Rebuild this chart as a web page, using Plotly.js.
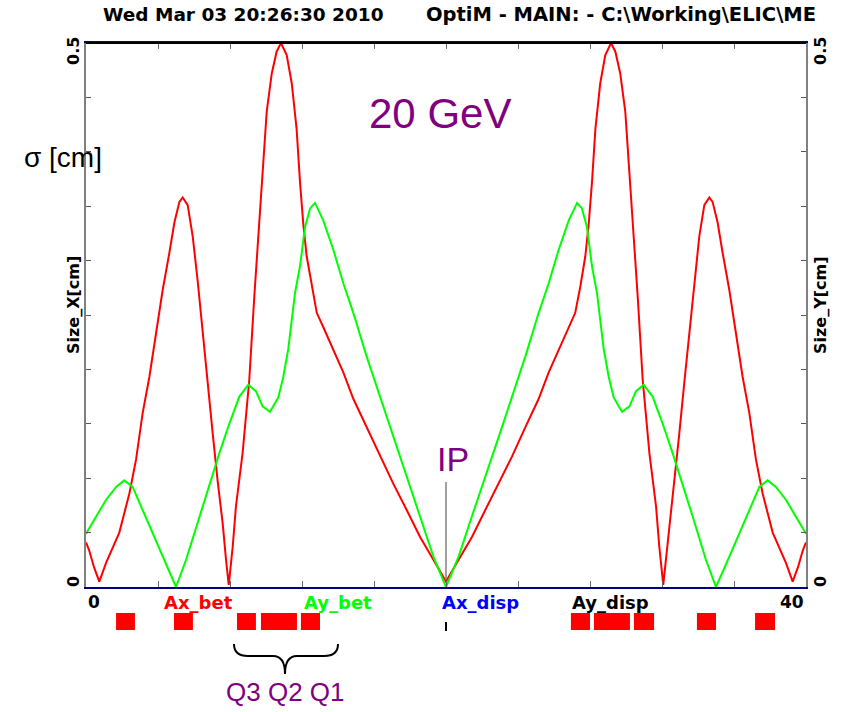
<!DOCTYPE html>
<html>
<head>
<meta charset="utf-8">
<script src="https://cdn.plot.ly/plotly-3.0.1.min.js"></script>
<style>html,body{margin:0;padding:0;background:#fff;}#chart{width:842px;height:712px;}</style>
</head>
<body>
<div id="chart"></div>
<script>
// ---- data ----
const sRed = [0, 0.17, 0.45, 0.74, 1.11, 1.85, 2.41, 2.78, 3.15, 3.52, 3.89, 4.26, 4.63, 4.91, 5.19, 5.37, 5.65, 5.93, 6.2, 6.48, 6.76, 7.04, 7.31, 7.59, 7.78, 7.93, 8.15, 8.33, 8.7, 9.07, 9.35, 9.63, 9.85, 10.04, 10.32, 10.59, 10.83, 11.15, 11.43, 11.7, 11.89, 12.07, 12.26, 12.54, 12.82, 13.18, 13.74, 14.3, 14.85, 15.59, 16.33, 17.07, 17.81, 18.56, 19.3, 20,
  20.7, 21.44, 22.19, 22.93, 23.67, 24.41, 25.15, 25.7, 26.26, 26.82, 27.18, 27.46, 27.74, 27.93, 28.11, 28.3, 28.57, 28.85, 29.17, 29.41, 29.68, 29.96, 30.15, 30.37, 30.65, 30.93, 31.3, 31.67, 31.85, 32.07, 32.22, 32.41, 32.69, 32.96, 33.24, 33.52, 33.8, 34.07, 34.35, 34.63, 34.81, 35.09, 35.37, 35.74, 36.11, 36.48, 36.85, 37.22, 37.59, 38.15, 38.89, 39.26, 39.55, 39.83, 40];
const sizeX = [0.041, 0.034, 0.018, 0.005, 0.022, 0.050, 0.086, 0.117, 0.160, 0.193, 0.233, 0.273, 0.307, 0.335, 0.354, 0.358, 0.351, 0.322, 0.282, 0.233, 0.188, 0.141, 0.098, 0.059, 0.025, 0.002, 0.037, 0.074, 0.123, 0.190, 0.267, 0.337, 0.392, 0.437, 0.472, 0.492, 0.500, 0.489, 0.463, 0.421, 0.372, 0.334, 0.304, 0.276, 0.252, 0.239, 0.218, 0.197, 0.173, 0.147, 0.120, 0.095, 0.071, 0.046, 0.025, 0.005,
  0.025, 0.046, 0.071, 0.095, 0.120, 0.147, 0.173, 0.197, 0.218, 0.239, 0.252, 0.276, 0.304, 0.334, 0.372, 0.421, 0.463, 0.489, 0.500, 0.492, 0.472, 0.437, 0.392, 0.337, 0.267, 0.190, 0.123, 0.074, 0.037, 0.002, 0.025, 0.059, 0.098, 0.141, 0.188, 0.233, 0.282, 0.322, 0.351, 0.358, 0.354, 0.335, 0.307, 0.273, 0.233, 0.193, 0.160, 0.117, 0.086, 0.050, 0.022, 0.005, 0.018, 0.034, 0.041];

const sGreen = [0, 0.56, 1.11, 1.67, 2.13, 2.59, 3.15, 3.7, 4.26, 5.0, 5.56, 6.3, 7.04, 7.41, 7.96, 8.52, 9.02, 9.44, 9.81, 10.22, 10.68, 10.96, 11.24, 11.43, 11.61, 11.89, 12.17, 12.45, 12.72, 13.18, 13.74, 14.3, 14.85, 15.59, 16.33, 17.07, 17.81, 18.56, 19.3, 20,
  20.7, 21.44, 22.19, 22.93, 23.67, 24.41, 25.15, 25.7, 26.26, 26.82, 27.28, 27.55, 27.83, 28.11, 28.39, 28.57, 28.76, 29.04, 29.32, 29.78, 30.19, 30.56, 30.98, 31.48, 32.04, 32.59, 32.96, 33.7, 34.44, 35.0, 35.74, 36.3, 36.85, 37.41, 37.87, 38.33, 38.89, 39.44, 40];
const sizeY = [0.049, 0.065, 0.080, 0.092, 0.098, 0.092, 0.071, 0.049, 0.028, 0.0, 0.025, 0.065, 0.104, 0.123, 0.150, 0.175, 0.186, 0.180, 0.166, 0.161, 0.174, 0.193, 0.219, 0.245, 0.270, 0.295, 0.331, 0.348, 0.353, 0.337, 0.310, 0.279, 0.252, 0.212, 0.175, 0.138, 0.101, 0.065, 0.028, 0.0,
  0.028, 0.065, 0.101, 0.138, 0.175, 0.212, 0.252, 0.279, 0.310, 0.337, 0.353, 0.348, 0.331, 0.295, 0.270, 0.245, 0.219, 0.193, 0.174, 0.161, 0.166, 0.180, 0.186, 0.175, 0.150, 0.123, 0.104, 0.065, 0.025, 0.0, 0.028, 0.049, 0.071, 0.092, 0.098, 0.092, 0.080, 0.065, 0.049];

const magnetStart = [1.67, 4.89, 8.39, 9.72, 11.94, 26.94, 28.22, 30.44, 33.94, 37.17];
const magnetEnd   = [2.72, 5.94, 9.44, 11.72, 13.0, 28.0, 30.22, 31.56, 35.0, 38.28];

const xTickVals = [0, 40];
const xTickText = ['0', '40'];
const yTickVals = [0, 0.5];
const yTickText = ['0', '0.5'];
const latticeLabels = ['Ax_bet', 'Ay_bet', 'Ax_disp', 'Ay_disp'];
const ipPosition = 20;

// ---- layout helpers (pixel -> paper) ----
const ML = 86, MT = 43, PW = 720, PH = 597, PB = MT + PH;
const px = x => (x - ML) / PW;
const py = y => (PB - y) / PH;

const magnetCenter = magnetStart.map((s, i) => (s + magnetEnd[i]) / 2);
const magnetWidth = magnetStart.map((s, i) => magnetEnd[i] - s);
const magnetHeight = magnetStart.map(() => 1);

const traces = [
  {x: sRed, y: sizeX, type: 'scatter', mode: 'lines', xaxis: 'x', yaxis: 'y',
   line: {color: '#ff0000', width: 2}, hoverinfo: 'skip', showlegend: false},
  {x: sGreen, y: sizeY, type: 'scatter', mode: 'lines', xaxis: 'x', yaxis: 'y2',
   line: {color: '#00ff00', width: 2}, hoverinfo: 'skip', showlegend: false},
  {x: magnetCenter, y: magnetHeight, width: magnetWidth, type: 'bar', xaxis: 'x', yaxis: 'y3',
   marker: {color: '#ff0000', line: {width: 0}}, hoverinfo: 'skip', showlegend: false}
];

const boldFont = (size, color) => ({family: 'DejaVu Sans, sans-serif', size: size, color: color || '#000', weight: 'bold'});
const plainFont = (size, color) => ({family: 'Liberation Sans, Arial, sans-serif', size: size, color: color || '#000'});

const labelColors = ['#ff0000', '#00ff00', '#0000ff', '#000000'];
const labelCenters = [198, 338, 480, 610];

function note(o) {
  return Object.assign({xref: 'paper', yref: 'paper', xanchor: 'center', yanchor: 'middle', showarrow: false}, o);
}

const annotations = [
  note({text: 'Wed Mar 03 20:26:30 2010', x: px(101), y: py(14), xanchor: 'left', font: boldFont(18.5)}),
  note({text: 'OptiM - MAIN: - C:\\Working\\ELIC\\ME', x: px(424), y: py(14), xanchor: 'left', font: boldFont(19.5)}),
  note({text: 'Size_X[cm]', x: px(73), y: py(305), textangle: -90, font: boldFont(16)}),
  note({text: 'Size_Y[cm]', x: px(820), y: py(305), textangle: -90, font: boldFont(16)}),
  note({text: yTickText[1], x: px(73), y: py(51), textangle: -90, font: boldFont(16)}),
  note({text: yTickText[0], x: px(73), y: py(582), textangle: -90, font: boldFont(16)}),
  note({text: yTickText[1], x: px(820), y: py(51), textangle: -90, font: boldFont(16)}),
  note({text: yTickText[0], x: px(820), y: py(582), textangle: -90, font: boldFont(16)}),
  note({text: xTickText[0], xref: 'x', x: xTickVals[0], y: py(602), xanchor: 'left', font: boldFont(17)}),
  note({text: xTickText[1], xref: 'x', x: xTickVals[1], y: py(602), xanchor: 'right', font: boldFont(17)}),
  note({text: '\u03c3 [cm]', x: px(63), y: py(157), font: plainFont(28)}),
  note({text: '20 GeV', x: px(440), y: py(113), font: plainFont(42, '#800080')}),
  note({text: 'IP', x: px(453), y: py(459), font: plainFont(34, '#800080')}),
  note({text: 'Q3 Q2 Q1', x: px(285), y: py(692), font: plainFont(26, '#800080')})
];
latticeLabels.forEach((t, i) => annotations.push(note({
  text: t, x: px(labelCenters[i]), y: py(602), font: boldFont(18, labelColors[i])
})));

const braceY0 = py(644), braceY1 = py(656), braceY2 = py(674);
const bx0 = px(234), bx1 = px(285), bx2 = px(338);
const bracePath = `M ${bx0},${braceY0} Q ${bx0},${braceY1} ${px(248)},${braceY1} L ${px(273)},${braceY1} Q ${bx1},${braceY1} ${bx1},${braceY2} Q ${bx1},${braceY1} ${px(297)},${braceY1} L ${px(324)},${braceY1} Q ${bx2},${braceY1} ${bx2},${braceY0}`;

const shapes = [
  {type: 'line', xref: 'paper', yref: 'paper', x0: 0, x1: 1, y0: 1, y1: 1, line: {color: '#000', width: 2}, layer: 'above'},
  {type: 'line', xref: 'x', yref: 'y', x0: ipPosition, x1: ipPosition, y0: 0.0064, y1: 0.0965, line: {color: '#808080', width: 1.5}},
  {type: 'line', xref: 'x', yref: 'paper', x0: ipPosition, x1: ipPosition, y0: py(631), y1: py(622), line: {color: '#000', width: 2}},
  {type: 'path', xref: 'paper', yref: 'paper', path: bracePath, line: {color: '#000', width: 2}}
];

const yBase = {
  range: [0, 0.5], showline: true, linecolor: '#808080', linewidth: 2,
  ticks: 'inside', dtick: 0.05, tick0: 0, ticklen: 5, tickcolor: '#555', tickwidth: 1,
  showticklabels: false, showgrid: false, zeroline: false, fixedrange: true
};

const layout = {
  width: 842, height: 712,
  margin: {l: ML, r: 842 - ML - PW, t: MT, b: 712 - PB},
  paper_bgcolor: '#fff', plot_bgcolor: '#fff',
  showlegend: false,
  xaxis: {range: [0, 40], anchor: 'y', showline: true, linecolor: '#000080', linewidth: 2, mirror: 'ticks',
          ticks: 'inside', dtick: 4, tick0: 0, ticklen: 6, tickcolor: '#666', tickwidth: 1,
          showticklabels: false, showgrid: false, zeroline: false, fixedrange: true},
  yaxis: Object.assign({}, yBase, {domain: [py(587), 1], anchor: 'x', side: 'left'}),
  yaxis2: Object.assign({}, yBase, {overlaying: 'y', anchor: 'x', side: 'right'}),
  yaxis3: {domain: [py(630), py(613)], range: [0, 1], visible: false, anchor: 'x', fixedrange: true},
  annotations: annotations,
  shapes: shapes
};

Plotly.newPlot('chart', traces, layout, {staticPlot: true, displayModeBar: false});
</script>
</body>
</html>
